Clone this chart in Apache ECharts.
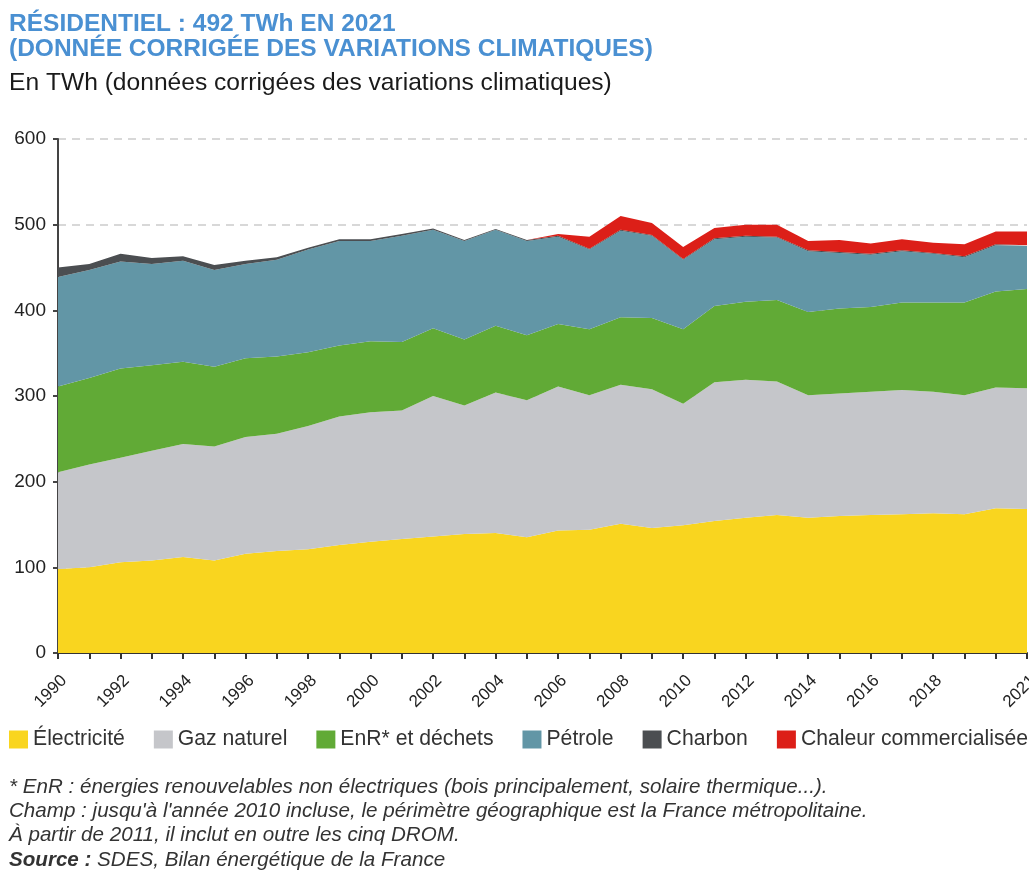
<!DOCTYPE html>
<html>
<head>
<meta charset="utf-8">
<script src="https://cdn.jsdelivr.net/npm/echarts@6/dist/echarts.min.js"></script>
<style>
html, body { margin: 0; padding: 0; background: #fff; overflow: hidden; }
#main { width: 1029px; height: 872px; }
</style>
</head>
<body>
<div id="main"></div>
<script>
var years = ["1990","1991","1992","1993","1994","1995","1996","1997","1998","1999","2000",
  "2001","2002","2003","2004","2005","2006","2007","2008","2009","2010",
  "2011","2012","2013","2014","2015","2016","2017","2018","2019","2020","2021"];

// TWh
var electricite = [98,100,106,108,112,108,116,119,121,126,130,133,136,139,140,135,143,144,151,146,149,154,158,161,158,160,161,162,163,162,169,168];
var gaz = [113,120,122,128,132,133,136,137,144,150,151,150,164,150,164,160,168,157,162,162,142,162,161,156,143,143,144,145,142,139,141,141];
var enr = [100,101,104,100,96,93,92,90,86,83,83,80,79,77,78,76,73,77,79,83,87,89,91,95,97,99,99,102,104,108,112,116];
var petrole = [128,126,125,118,118,113,110,113,120,122,117,124,115,115,112,110,102,93,101,96,81,78,76,73,71,65,61,60,57,53,54,50];
var charbon = [11,7,9,7,5,6,4,3,2,2,2,2,1.5,1,1,1,1,1,1,1,1,1,1,1,1,1,1,1,1,1,1,1];
var chaleur = [0,0,0,0,0,0,0,0,0,0,0,0,0,0,0,0,2,14,16,14,14,12,13,14,11,14,12,13,12,14,15,16];

var seriesNames = ["Électricité","Gaz naturel","EnR* et déchets","Pétrole","Charbon","Chaleur commercialisée"];
var seriesData = [electricite, gaz, enr, petrole, charbon, chaleur];
var colors = ["#F9D51F","#C5C6CA","#61AA36","#6296A6","#4B4E51","#DC1F18"];

var dom = document.getElementById("main");
var myChart = echarts.init(dom);

var series = seriesData.map(function (d, i) {
  return {
    name: seriesNames[i],
    type: "line",
    stack: "total",
    data: d,
    showSymbol: false,
    lineStyle: { width: 0 },
    areaStyle: { color: colors[i], opacity: 1 },
    itemStyle: { color: colors[i] }
  };
});

option = {
  backgroundColor: "#fff",
  animation: false,
  title: [
    {
      text: "RÉSIDENTIEL : 492 TWh EN 2021\n(DONNÉE CORRIGÉE DES VARIATIONS CLIMATIQUES)",
      left: 9, top: 11, padding: 0,
      textStyle: { fontFamily: "Liberation Sans", fontSize: 24.5, fontWeight: "bold", color: "#4A90D2", lineHeight: 25.5 }
    },
    {
      text: "En TWh (données corrigées des variations climatiques)",
      left: 9, top: 70, padding: 0,
      textStyle: { fontFamily: "Liberation Sans", fontSize: 24.6, fontWeight: "normal", color: "#1a1a1a", lineHeight: 26 }
    },
    {
      text: "* EnR : énergies renouvelables non électriques (bois principalement, solaire thermique...).\n" +
            "Champ : jusqu'à l'année 2010 incluse, le périmètre géographique est la France métropolitaine.\n" +
            "À partir de 2011, il inclut en outre les cinq DROM.\n" +
            "{b|Source :} SDES, Bilan énergétique de la France",
      left: 9, top: 775, padding: 0,
      textStyle: {
        fontFamily: "Liberation Sans", fontSize: 20.6, fontStyle: "italic", fontWeight: "normal", color: "#333", lineHeight: 24.3,
        rich: { b: { fontFamily: "Liberation Sans", fontSize: 20.6, fontStyle: "italic", fontWeight: "bold", color: "#333", lineHeight: 24.3 } }
      }
    }
  ],
  legend: {
    left: 9, top: 729, padding: 0, width: 1020,
    itemWidth: 19, itemHeight: 18, itemGap: 29,
    icon: "rect",
    data: seriesNames,
    textStyle: { fontFamily: "Liberation Sans", fontSize: 21.2, color: "#333" }
  },
  grid: { left: 58, right: 2, top: 139, bottom: 219, outerBoundsMode: "none" },
  xAxis: {
    type: "category",
    data: years,
    boundaryGap: false,
    axisLine: { lineStyle: { color: "#333", width: 2 } },
    axisTick: { show: true, length: 6, interval: 0, lineStyle: { color: "#333", width: 2 } },
    axisLabel: {
      rotate: 45, margin: 19, verticalAlign: "top",
      fontFamily: "Liberation Sans", fontSize: 17, color: "#222",
      interval: function (idx, val) {
        var y = parseInt(val, 10);
        return (y % 2 === 0 && y <= 2018) || y === 2021;
      }
    },
    splitLine: { show: false }
  },
  yAxis: {
    type: "value",
    min: 0, max: 600, interval: 100,
    axisLine: { show: true, lineStyle: { color: "#444", width: 2 } },
    axisTick: { show: true, length: 5, lineStyle: { color: "#444", width: 2 } },
    axisLabel: { fontFamily: "Liberation Sans", fontSize: 19, color: "#222", margin: 12 },
    splitLine: { show: true, lineStyle: { color: "#CCCCCC", type: [8, 6], width: 1.5 } }
  },
  series: series
};

if (option && typeof option === "object") {
  myChart.setOption(option, true);
}
</script>
</body>
</html>
